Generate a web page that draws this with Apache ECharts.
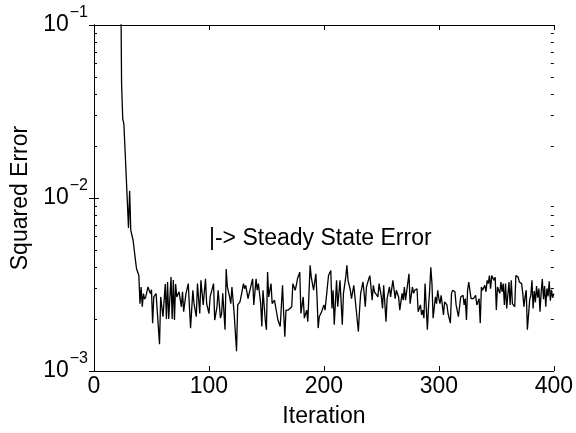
<!DOCTYPE html>
<html>
<head>
<meta charset="utf-8">
<script src="https://cdn.jsdelivr.net/npm/echarts@6/dist/echarts.min.js"></script>
<style>
html,body{margin:0;padding:0;background:#fff;}
#chart{width:576px;height:433px;}
</style>
</head>
<body>
<div id="chart"></div>
<script>
// Iteration numbers and squared error
const iterations = [
23,24,25,26,28,30,31,32,34,36,37,39,40,41,42,43,44,45,47,49,50,51,52,54,55,57,58,60,62,63,64,65,67,68,69,70,71,72,74,76,77,78,80,
82,84,86,87,89,90,92,93,95,97,98,100,101,104,105,107,108,110,111,112,114,115,116,118,119,120,122,124,125,127,129,130,131,132,134,135,137,138,139,
141,142,143,145,146,147,149,150,151,152,154,155,157,159,160,162,164,165,166,167,169,170,172,173,175,176,177,179,180,182,183,185,186,188,189,191,192,193,194,195,196,198,
200,201,204,206,207,208,209,211,212,214,216,217,219,220,221,223,224,226,227,229,230,231,232,234,235,236,237,239,240,242,243,244,245,247,248,250,251,252,254,255,257,258,
260,262,263,265,266,268,269,270,271,274,275,277,278,279,281,282,284,285,286,287,288,289,290,291,292,293,294,295,297,298,299,300,301,302,304,305,307,308,310,311,312,314,315,317,
318,319,321,322,323,324,325,326,328,329,330,332,333,335,336,337,338,340,341,342,343,344,345,346,348,349,350,351,353,354,355,356,357,358,359,361,362,363,364,366,367,369,370,372,373,374,375,376,377,379,380,381,382,
383,384,385,386,387,388,389,390,391,392,393,394,395,396,397,398,399,400
];
const squaredError = [
0.3,0.0454,0.0287,0.0268,0.0135,0.0067,0.0110,0.0065,0.0057,0.0044,0.0039,0.00358,0.00245,0.00306,0.00235,0.00280,0.00260,0.00268,0.00306,0.00280,0.00295,0.00189,0.00268,0.00280,0.00280,0.00143,0.00268,0.00206,0.00318,0.00200,0.00327,0.00200,0.00349,0.00200,0.00336,0.00197,0.00318,0.00268,0.00287,0.00235,0.00287,0.00220,0.00280,
0.00320,0.00177,0.00293,0.00245,0.00206,0.00320,0.00215,0.00334,0.00241,0.00341,0.00245,0.00215,0.00268,0.00320,0.00197,0.00235,0.00293,0.00202,0.00215,0.00281,0.00173,0.00389,0.00306,0.00268,0.00245,0.00306,0.00211,0.00130,0.00241,0.00251,0.00293,0.00320,0.00299,0.00313,0.00262,0.00281,0.00320,0.00341,0.00241,
0.00341,0.00293,0.00320,0.00245,0.00181,0.00293,0.00197,0.00173,0.00373,0.00268,0.00320,0.00245,0.00257,0.00215,0.00197,0.00181,0.00313,0.00215,0.00158,0.00225,0.00225,0.00230,0.00235,0.00320,0.00293,0.00313,0.00341,0.00373,0.00215,0.00268,0.00202,0.00225,0.00193,0.00408,0.00349,0.00293,0.00299,0.00365,0.00268,0.00177,0.00206,0.00220,
0.00241,0.00225,0.00356,0.00381,0.00230,0.00293,0.00185,0.00334,0.00235,0.00334,0.00185,0.00281,0.00349,0.00408,0.00334,0.00293,0.00262,0.00313,0.00306,0.00197,0.00169,0.00225,0.00281,0.00327,0.00281,0.00235,0.00306,0.00341,0.00356,0.00257,0.00313,0.00287,0.00293,0.00268,0.00320,0.00268,0.00230,0.00313,0.00193,0.00262,0.00306,0.00268,
0.00334,0.00262,0.00293,0.00268,0.00225,0.00281,0.00257,0.00306,0.00257,0.00365,0.00245,0.00306,0.00281,0.00293,0.00299,0.00220,0.00241,0.00211,0.00225,0.00202,0.00320,0.00327,0.00173,0.00235,0.00293,0.00398,0.00320,0.00202,0.00268,0.00245,0.00293,0.00262,0.00245,0.00274,0.00211,0.00251,0.00241,0.00215,0.00189,0.00281,0.00293,0.00287,0.00241,0.00206,
0.00235,0.00268,0.00274,0.00241,0.00262,0.00197,0.00293,0.00327,0.00262,0.00257,0.00262,0.00274,0.00241,0.00262,0.00189,0.00306,0.00293,0.00313,0.00287,0.00334,0.00320,0.00356,0.00299,0.00356,0.00334,0.00349,0.00225,0.00306,0.00281,0.00327,0.00287,0.00320,0.00241,0.00320,0.00230,0.00327,0.00241,0.00334,0.00245,0.00235,0.00356,0.00349,0.00327,0.00320,0.00281,0.00235,0.00268,0.00293,0.00173,0.00257,0.00274,0.00334,0.00230,
0.00290,0.00250,0.00310,0.00265,0.00300,0.00220,0.00285,0.00340,0.00260,0.00310,0.00235,0.00300,0.00270,0.00330,0.00255,0.00295,0.00265,0.00280
];
const xTickValues = [0, 100, 200, 300, 400];
const yMajorTicks = [0.001, 0.01, 0.1];
const yMinorTicks = [0.002,0.003,0.004,0.005,0.006,0.007,0.008,0.009,0.02,0.03,0.04,0.05,0.06,0.07,0.08,0.09];
const annotationText = '|-> Steady State Error';
const annotationAt = [100, 0.0058];
const xLabel = 'Iteration';
const yLabel = 'Squared Error';

const FONT = "'Liberation Sans', Arial, Helvetica, sans-serif";
const chart = echarts.init(document.getElementById('chart'), null, {renderer: 'canvas'});
const lineData = iterations.map((x, i) => [x, squaredError[i]]);

const axisLineStyle = {show: true, lineStyle: {color: '#000', width: 1}};
const tickStyle = {show: true, inside: true, length: 5, lineStyle: {color: '#000', width: 1}};

chart.setOption({
  animation: false,
  backgroundColor: '#fff',
  grid: {left: 94, right: 22, top: 25, bottom: 57, containLabel: false},
  xAxis: [
    {type: 'value', min: xTickValues[0], max: xTickValues[xTickValues.length - 1], interval: 100, position: 'bottom',
     axisLine: axisLineStyle, axisTick: tickStyle, splitLine: {show: false},
     axisLabel: {fontSize: 23, color: '#000', fontFamily: FONT, margin: 4},
     name: xLabel, nameLocation: 'middle', nameGap: 34,
     nameTextStyle: {fontSize: 23, color: '#000', fontFamily: FONT}},
    {type: 'value', min: xTickValues[0], max: xTickValues[xTickValues.length - 1], interval: 100, position: 'top',
     axisLine: axisLineStyle, axisTick: tickStyle, splitLine: {show: false}, axisLabel: {show: false}}
  ],
  yAxis: [
    {type: 'log', logBase: 10, min: yMajorTicks[0], max: yMajorTicks[yMajorTicks.length - 1], position: 'left',
     axisLine: axisLineStyle, axisTick: tickStyle, splitLine: {show: false}, minorTick: {show: false},
     axisLabel: {
       margin: 6, color: '#000', fontFamily: FONT,
       formatter: function (v) {
         const e = Math.round(Math.log10(v));
         return '{b|10}{s|' + (e < 0 ? '\u2212' : '') + Math.abs(e) + '}';
       },
       rich: {
         b: {fontSize: 23, fontFamily: FONT, color: '#000', lineHeight: 40, verticalAlign: 'middle'},
         s: {fontSize: 16, fontFamily: FONT, color: '#000', lineHeight: 16, padding: [0, 0, 24, 1], verticalAlign: 'top'}
       }
     },
     name: yLabel, nameLocation: 'middle', nameGap: 58,
     nameTextStyle: {fontSize: 23, color: '#000', fontFamily: FONT}},
    {type: 'log', logBase: 10, min: yMajorTicks[0], max: yMajorTicks[yMajorTicks.length - 1], position: 'right',
     axisLine: axisLineStyle, axisTick: tickStyle, splitLine: {show: false}, axisLabel: {show: false}}
  ],
  series: [
    {type: 'line', xAxisIndex: 0, yAxisIndex: 0, data: lineData, showSymbol: false, symbol: 'none',
     lineStyle: {color: '#000', width: 1.3}, clip: true, silent: true, z: 3},
    {type: 'custom', xAxisIndex: 0, yAxisIndex: 0, silent: true, z: 4,
     data: yMinorTicks.map(v => [0, v]),
     renderItem: function (params, api) {
       const cs = params.coordSys;
       const y = Math.round(api.coord([0, api.value(1)])[1]) + 0.5;
       const st = {stroke: '#000', lineWidth: 1};
       return {type: 'group', children: [
         {type: 'line', shape: {x1: cs.x, y1: y, x2: cs.x + 3, y2: y}, style: st},
         {type: 'line', shape: {x1: cs.x + cs.width, y1: y, x2: cs.x + cs.width - 3, y2: y}, style: st}
       ]};
     }},
    {type: 'scatter', xAxisIndex: 0, yAxisIndex: 0, silent: true, symbolSize: 0,
     itemStyle: {color: '#000', opacity: 1},
     data: [annotationAt],
     label: {show: true, position: 'right', distance: 0, formatter: annotationText, opacity: 1,
             fontSize: 23, color: '#000', fontFamily: FONT, align: 'left', verticalAlign: 'middle',
             textBorderWidth: 0}}
  ]
});
</script>
</body>
</html>
